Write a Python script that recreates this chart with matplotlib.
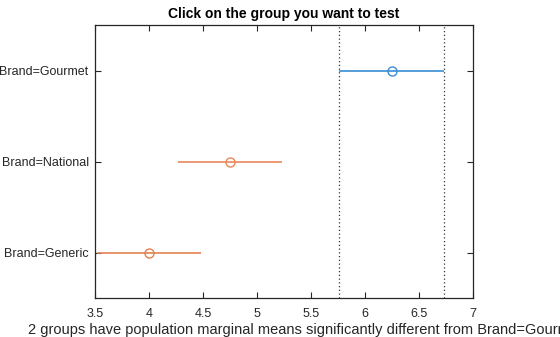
import matplotlib
matplotlib.use("Agg")
import matplotlib.pyplot as plt

groups = ["Brand=Generic", "Brand=National", "Brand=Gourmet"]
means = [4.0, 4.75, 6.25]
lower = [3.515, 4.265, 5.765]
upper = [4.485, 5.235, 6.735]
colors = ["#e3804f", "#e8875a", "#3a8dd6"]
ref_lines = [5.765, 6.735]
xticks = [3.5, 4, 4.5, 5, 5.5, 6, 6.5, 7]

plt.rcParams['font.family'] = ['Liberation Sans', 'DejaVu Sans']
fig = plt.figure(figsize=(5.6, 3.37), dpi=100)
ax = fig.add_axes([0.1696, 0.1157, 0.8440 - 0.1696, 0.9258 - 0.1157])

ypos = [1, 2, 3]
for y, m, lo, hi, c in zip(ypos, means, lower, upper, colors):
    ax.plot([lo, hi], [y, y], color=c, lw=1.2, solid_capstyle='butt')
    ax.plot([m], [y], marker='o', mfc='none', mec=c, ms=6.5, mew=1.0)

for x in ref_lines:
    ax.axvline(x, color='#333333', ls=(0, (1, 2)), lw=0.9)

ax.set_xlim(3.5, 7)
ax.set_ylim(0.5, 3.5)
ax.set_xticks(xticks)
ax.set_xticklabels([f"{t:g}" for t in xticks])
ax.set_yticks(ypos)
ax.set_yticklabels(groups)
ax.tick_params(direction='in', length=4, width=0.8, top=True, right=True,
               labelsize=9, colors='#262626', labelcolor='#262626')
ax.tick_params(axis='x', pad=7)
ax.tick_params(axis='y', pad=4.5)
for s in ax.spines.values():
    s.set_linewidth(0.9)
    s.set_color('#262626')
ax.set_title("Click on the group you want to test", fontsize=10, fontweight='bold', pad=5)
ax.set_xlabel("2 groups have population marginal means significantly different from Brand=Gourmet",
              fontsize=10.5, color='#262626')
ax.xaxis.set_label_coords(0.557, -0.09, transform=ax.transAxes)
ax.xaxis.label.set_va('top')
fig.savefig("out.png", dpi=100)
